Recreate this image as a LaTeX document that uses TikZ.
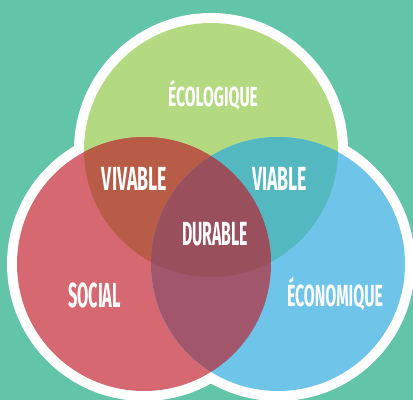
\documentclass[tikz,border=0pt]{standalone}
\usepackage{fontspec}
\setmainfont{Fira Sans}

\definecolor{bgteal}{HTML}{62C4A9}
\definecolor{ecogreen}{HTML}{B3DA80}
\definecolor{socred}{HTML}{D56870}
\definecolor{econblue}{HTML}{6EC5E9}
\definecolor{vivcol}{HTML}{B85C48}
\definecolor{viacol}{HTML}{53B8BF}
\definecolor{rbcol}{HTML}{A1566B}
\definecolor{durcol}{HTML}{9A4F5D}

% narrow caps label: width, font size, text
\newcommand{\vennlabel}[3]{\resizebox{#1}{\height}{\fontsize{#2}{#2}\selectfont\bfseries #3}}

\begin{document}
\begin{tikzpicture}[x=1pt,y=1pt,
    venntext/.style={text=white,inner sep=0pt,anchor=base}]
    % Background
    \fill[bgteal] (0,0) rectangle (413,400);
    \useasboundingbox (0,0) rectangle (413,400);

    % Centres of the three circles
    \coordinate (g) at (211,250);
    \coordinate (r) at (144,136);
    \coordinate (b) at (278,136);

    % White outline
    \fill[white] (g) circle (137);
    \fill[white] (r) circle (137);
    \fill[white] (b) circle (137);

    % The circles
    \fill[ecogreen] (g) circle (127);
    \fill[socred] (r) circle (127);
    \fill[econblue] (b) circle (127);

    % Overlaps with the green circle
    \begin{scope}
        \clip (g) circle (127);
        \fill[vivcol] (r) circle (127);
        \fill[viacol] (b) circle (127);
    \end{scope}

    % Overlap of red and blue, and the middle
    \begin{scope}
        \clip (r) circle (127);
        \fill[rbcol] (b) circle (127);
        \clip (g) circle (127);
        \fill[durcol] (b) circle (127);
    \end{scope}

    % Labels
    \node[venntext] (eco) at (213,294) {\vennlabel{90pt}{27.6}{ÉCOLOGIQUE}};
    \node[venntext] (viv) at (134.5,209) {\vennlabel{65pt}{33.4}{VIVABLE}};
    \node[venntext] (via) at (279.5,209) {\vennlabel{55pt}{33.4}{VIABLE}};
    \node[venntext] (dur) at (215,154) {\vennlabel{66pt}{33.4}{DURABLE}};
    \node[venntext] (soc) at (94.5,93) {\vennlabel{53pt}{34.8}{SOCIAL}};
    \node[venntext] (econ) at (335,94) {\vennlabel{96pt}{30.5}{ÉCONOMIQUE}};
\end{tikzpicture}
\end{document}
